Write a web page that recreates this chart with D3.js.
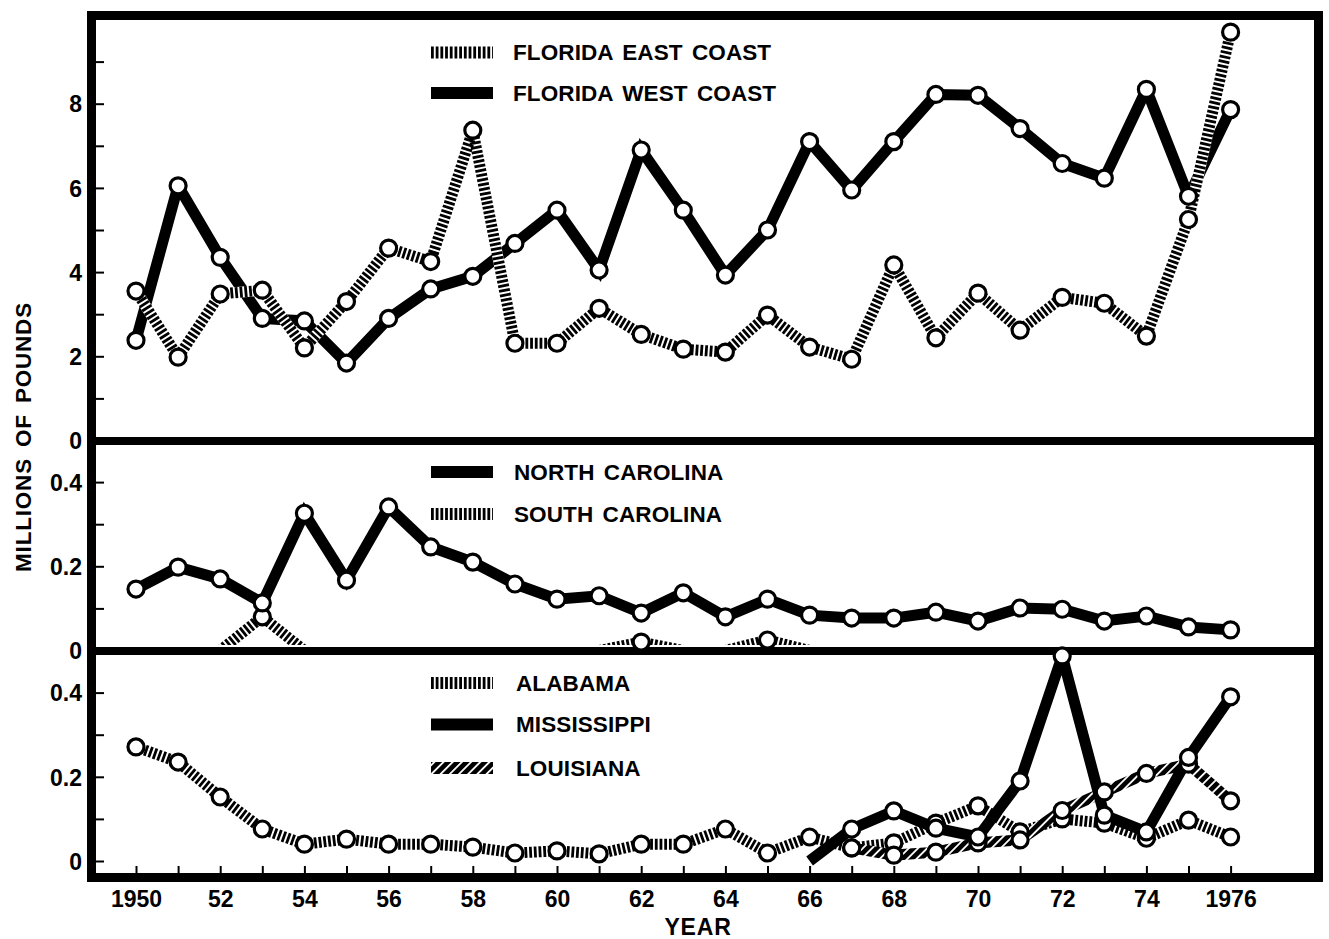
<!DOCTYPE html>
<html>
<head>
<meta charset="utf-8">
<script src="https://cdn.jsdelivr.net/npm/d3@7"></script>
<style>
  html, body { margin: 0; padding: 0; background: #fff; }
  svg { display: block; }
  text { font-family: "Liberation Sans", Arial, sans-serif; font-weight: bold; fill: #000; }
</style>
</head>
<body>
<svg id="chart" width="1329" height="939"></svg>
<script>
// Landings by state, millions of pounds, 1950-1976
const years = d3.range(1950, 1977);

const floridaEastCoast = [3.55, 1.98, 3.48, 3.57, 2.2, 3.3, 4.57, 4.25, 7.37, 2.31, 2.31, 3.14, 2.52, 2.17,
  2.1, 2.98, 2.22, 1.93, 4.17, 2.44, 3.5, 2.62, 3.4, 3.26, 2.48, 5.25, 9.7];
const floridaWestCoast = [2.38, 6.05, 4.35, 2.9, 2.84, 1.84, 2.9, 3.6, 3.9, 4.68, 5.47, 4.05, 6.9, 5.47,
  3.93, 5.0, 7.1, 5.95, 7.1, 8.22, 8.2, 7.41, 6.58, 6.23, 8.34, 5.8, 7.86];

const northCarolina = [0.146, 0.198, 0.17, 0.113, 0.326, 0.167, 0.341, 0.246, 0.21, 0.158, 0.122, 0.13,
  0.089, 0.137, 0.08, 0.122, 0.084, 0.077, 0.077, 0.091, 0.07, 0.101, 0.098, 0.07, 0.082, 0.056, 0.049];
const southCarolina = [null, null, 0, 0.08, 0, null, null, null, null, null, null, 0, 0.02, 0, 0, 0.025, 0,
  null, null, null, null, null, null, null, null, null, null];

const alabama = [0.271, 0.235, 0.152, 0.076, 0.04, 0.052, 0.04, 0.04, 0.033, 0.019, 0.024, 0.017, 0.04,
  0.04, 0.076, 0.019, 0.057, 0.031, 0.043, 0.09, 0.131, 0.069, 0.10, 0.09, 0.054, 0.097, 0.057];
const mississippi = [null, null, null, null, null, null, null, null, null, null, null, null, null, null,
  null, null, 0, 0.076, 0.119, 0.078, 0.057, 0.19, 0.487, 0.109, 0.069, 0.246, 0.39];
const louisiana = [null, null, null, null, null, null, null, null, null, null, null, null, null, null,
  null, null, null, 0.031, 0.014, 0.021, 0.043, 0.05, 0.12, 0.164, 0.208, 0.23, 0.143];

const yearTickLabels = ["1950", "52", "54", "56", "58", "60", "62", "64", "66", "68", "70", "72", "74", "1976"];
const topTickValues = [0, 1, 2, 3, 4, 5, 6, 7, 8, 9];
const topTickLabels = ["0", "", "2", "", "4", "", "6", "", "8", ""];
const smallTickValues = [0, 0.1, 0.2, 0.3, 0.4];
const smallTickLabels = ["0", "", "0.2", "", "0.4"];

// ---- layout ----
const svg = d3.select("#chart");
const frame = { left: 91.5, right: 1318.5, top: 15.5, bottom: 877.5, width: 9 };
const inner = { left: 96, right: 1314 };

const x = d3.scaleLinear().domain([1950, 1976]).range([136, 1230.6]);

const panels = [
  {
    id: "florida",
    y: d3.scaleLinear().domain([0, 10]).range([440.5, 19.5]),
    clip: [20, 437],
    tickValues: topTickValues, tickLabels: topTickLabels,
    series: [
      { name: "FLORIDA WEST COAST", values: floridaWestCoast, style: "solid" },
      { name: "FLORIDA EAST COAST", values: floridaEastCoast, style: "bars" }
    ],
    legend: [
      { name: "FLORIDA EAST COAST", style: "bars", y: 52.5 },
      { name: "FLORIDA WEST COAST", style: "solid", y: 93 }
    ],
    legendX: 431, textX: 513
  },
  {
    id: "carolinas",
    y: d3.scaleLinear().domain([0, 0.5]).range([650.5, 440]),
    clip: [445, 645],
    tickValues: smallTickValues, tickLabels: smallTickLabels,
    series: [
      { name: "SOUTH CAROLINA", values: southCarolina, style: "bars" },
      { name: "NORTH CAROLINA", values: northCarolina, style: "solid" }
    ],
    legend: [
      { name: "NORTH CAROLINA", style: "solid", y: 472 },
      { name: "SOUTH CAROLINA", style: "bars", y: 514 }
    ],
    legendX: 431, textX: 514
  },
  {
    id: "gulf",
    y: d3.scaleLinear().domain([0, 0.5]).range([861, 650.5]),
    clip: [655, 873],
    tickValues: smallTickValues, tickLabels: smallTickLabels,
    series: [
      { name: "ALABAMA", values: alabama, style: "bars" },
      { name: "LOUISIANA", values: louisiana, style: "diag" },
      { name: "MISSISSIPPI", values: mississippi, style: "solid" }
    ],
    legend: [
      { name: "ALABAMA", style: "bars", y: 683 },
      { name: "MISSISSIPPI", style: "solid", y: 724.5 },
      { name: "LOUISIANA", style: "diag", y: 768 }
    ],
    legendX: 431, textX: 516
  }
];

const LINE_W = 11;

// ---- defs: diagonal hatch, clip areas ----
const defs = svg.append("defs");
const diag = defs.append("pattern")
  .attr("id", "diag")
  .attr("patternUnits", "userSpaceOnUse")
  .attr("width", 6.5).attr("height", 6.5)
  .attr("patternTransform", "rotate(45)");
diag.append("rect").attr("width", 6.5).attr("height", 6.5).attr("fill", "#000");
diag.append("rect").attr("x", 0).attr("width", 1.8).attr("height", 6.5).attr("fill", "#fff");

panels.forEach(p => {
  defs.append("clipPath").attr("id", "clip-" + p.id)
    .append("rect")
    .attr("x", inner.left).attr("y", p.clip[0])
    .attr("width", inner.right - inner.left).attr("height", p.clip[1] - p.clip[0]);
});

svg.append("rect").attr("width", 1329).attr("height", 939).attr("fill", "#fff");

// stroke a path in one of the three line styles
function strokeStyled(sel, style) {
  if (style === "solid") {
    sel.append("path").attr("class", "d")
      .attr("fill", "none").attr("stroke", "#000").attr("stroke-width", LINE_W)
      .attr("stroke-linejoin", "miter").attr("stroke-miterlimit", 2.2)
      .attr("stroke-linecap", "butt");
  } else if (style === "bars") {
    sel.append("path").attr("class", "d")
      .attr("fill", "none").attr("stroke", "#fff").attr("stroke-width", LINE_W)
      .attr("stroke-linejoin", "bevel").attr("stroke-linecap", "butt");
    sel.append("path").attr("class", "d")
      .attr("fill", "none").attr("stroke", "#000").attr("stroke-width", LINE_W)
      .attr("stroke-dasharray", "2.8 1.9").attr("stroke-linejoin", "bevel")
      .attr("stroke-linecap", "butt");
  } else {
    sel.append("path").attr("class", "d")
      .attr("fill", "none").attr("stroke", "url(#diag)").attr("stroke-width", LINE_W)
      .attr("stroke-linejoin", "miter").attr("stroke-miterlimit", 2.2)
      .attr("stroke-linecap", "butt");
  }
  return sel;
}

const markerLayer = [];

panels.forEach(p => {
  const g = svg.append("g").attr("class", "panel-" + p.id);
  const lines = g.append("g").attr("clip-path", `url(#clip-${p.id})`);

  p.series.forEach(s => {
    const pts = years.map((yr, i) => ({ yr, v: s.values[i] }));
    const gen = d3.line()
      .defined(d => d.v !== null)
      .x(d => x(d.yr))
      .y(d => p.y(d.v));
    const sg = strokeStyled(lines.append("g"), s.style);
    sg.selectAll("path.d").attr("d", gen(pts));
    markerLayer.push({ p, pts: pts.filter(d => d.v !== null && d.v > 0) });
  });

  // legend
  p.legend.forEach(l => {
    const lg = strokeStyled(g.append("g"), l.style);
    lg.selectAll("path.d").attr("d", `M${p.legendX},${l.y}H${p.legendX + 62}`)
      .attr("stroke-width", 12);
    g.append("text")
      .attr("x", p.textX).attr("y", l.y + 7.5)
      .attr("font-size", 22.5)
      .attr("letter-spacing", 0.1)
      .attr("word-spacing", 3)
      .text(l.name);
  });

  // left axis: ticks point inward, labels outside the frame
  const axis = d3.axisLeft(p.y)
    .tickValues(p.tickValues)
    .tickSize(-8)
    .tickPadding(14)
    .tickFormat((d, i) => p.tickLabels[i]);
  const ag = g.append("g").attr("transform", `translate(${inner.left},0)`).call(axis);
  ag.select(".domain").remove();
  ag.selectAll(".tick line").attr("stroke", "#000").attr("stroke-width", 2);
  ag.selectAll(".tick text")
    .attr("font-size", 23).attr("font-family", null).attr("fill", "#000")
    .attr("dy", "0.36em");
});

// bottom axis: one tick per year, labels on even years
const xAxis = d3.axisBottom(x)
  .tickValues(years)
  .tickSize(-7)
  .tickPadding(18)
  .tickFormat(d => (d % 2 === 0 ? yearTickLabels[(d - 1950) / 2] : ""));
const xg = svg.append("g").attr("transform", `translate(0,${frame.bottom - frame.width / 2})`).call(xAxis);
xg.select(".domain").remove();
xg.selectAll(".tick line").attr("stroke", "#000").attr("stroke-width", 2);
xg.selectAll(".tick text").attr("font-size", 23).attr("font-family", null).attr("fill", "#000");

// frame and panel dividers
svg.append("rect")
  .attr("x", frame.left).attr("y", frame.top)
  .attr("width", frame.right - frame.left).attr("height", frame.bottom - frame.top)
  .attr("fill", "none").attr("stroke", "#000").attr("stroke-width", frame.width);
[441, 651].forEach(yy => {
  svg.append("line")
    .attr("x1", frame.left).attr("x2", frame.right)
    .attr("y1", yy).attr("y2", yy)
    .attr("stroke", "#000").attr("stroke-width", 8);
});

// open circle markers on top of everything
markerLayer.forEach(m => {
  svg.append("g").selectAll("circle").data(m.pts).join("circle")
    .attr("cx", d => x(d.yr)).attr("cy", d => m.p.y(d.v))
    .attr("r", 8)
    .attr("fill", "#fff").attr("stroke", "#000").attr("stroke-width", 3.2);
});

// axis titles
svg.append("text")
  .attr("transform", "translate(31,437) rotate(-90)")
  .attr("text-anchor", "middle")
  .attr("font-size", 22.5).attr("letter-spacing", 0.8).attr("word-spacing", 4)
  .text("MILLIONS OF POUNDS");
svg.append("text")
  .attr("x", 698).attr("y", 935)
  .attr("text-anchor", "middle")
  .attr("font-size", 23).attr("letter-spacing", 0.8)
  .text("YEAR");
</script>
</body>
</html>
